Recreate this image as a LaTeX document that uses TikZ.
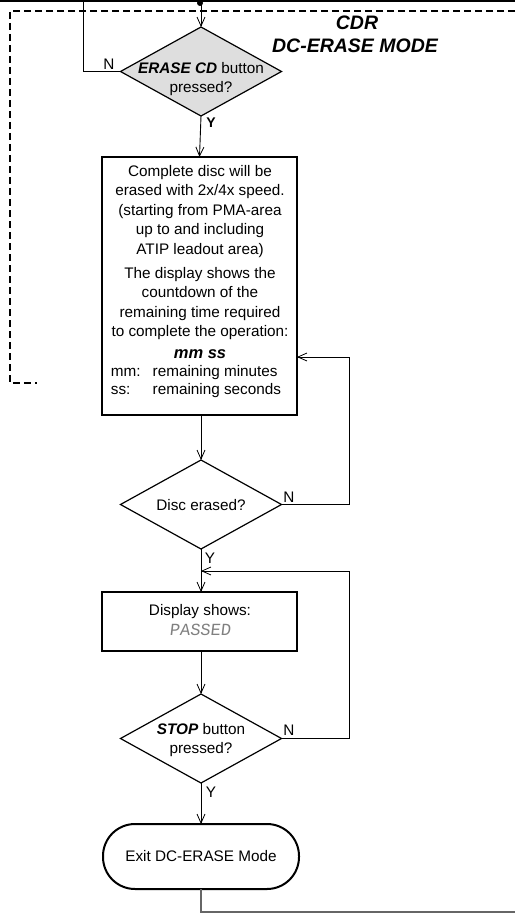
\documentclass[tikz,border=0pt]{standalone}
\usepackage{fontspec}
\setmainfont{Liberation Sans}
\newfontfamily\segfont[FakeSlant=0.12]{Liberation Mono}
\usetikzlibrary{shapes.geometric,arrows.meta}
\begin{document}
\begin{tikzpicture}[x=1pt,y=-1pt,
  every node/.style={inner sep=0pt,outer sep=0pt},
  body/.style={font=\fontsize{15.3}{19.5}\selectfont},
  dec/.style={draw,shape=diamond,line width=1.2pt,minimum width=161pt,minimum height=89pt},
  procbox/.style={draw,line width=2.2pt,rectangle,minimum width=195pt},
  conn/.style={line width=0.9pt},
  arr/.style={conn,-{Straight Barb[length=9pt,width=8pt,line width=0.8pt]}},
  yn/.style={font=\fontsize{14}{16}\selectfont},
  frame/.style={line width=1.5pt,dash pattern=on 7pt off 4pt}
]
\useasboundingbox (0,0) rectangle (515,920);
% top border line and dashed frame
\draw[line width=2.5pt] (0,1) -- (515,1);
\draw[frame] (515,11) -- (10,11) -- (10,383) -- (37,383);
% title
\node[font=\fontsize{19.5}{22}\selectfont\bfseries\itshape] (title1) at (357,23) {CDR};
\node[font=\fontsize{19.5}{22}\selectfont\bfseries\itshape] (title2) at (355,46) {DC-ERASE MODE};
% nodes
\node[dec,fill=black!13] (d1) at (201,71.5) {};
\node[body,align=center] (d1t) at (201,79) {\textbf{\textit{ERASE CD}} button\\pressed?};
\node[procbox,minimum height=258pt] (b1) at (199.5,286) {};
\node[body,align=center,anchor=north] (b1t) at (200,165) {Complete disc will be\\erased with 2x/4x speed.\\(starting from PMA-area\\up to and including\\ATIP leadout area)\\[4.5pt]The display shows the\\countdown of the\\remaining time required\\to complete the operation:\\[2.5pt]{\fontsize{16.5}{19.5}\selectfont\bfseries\itshape mm ss}\\[3.5pt]\hspace*{-8pt}\begin{tabular}{@{}l@{\hspace{12pt}}l@{}}mm: & remaining minutes\\[-1.5pt] ss: & remaining seconds\end{tabular}};
\node[dec] (d2) at (201,504.5) {};
\node[body] (d2t) at (201,505) {Disc erased?};
\node[procbox,minimum height=59pt] (b2) at (199.5,621.5) {};
\node[body,align=center] (b2t) at (200,620) {Display shows:\\{\fontsize{17}{19.5}\segfont\color{black!50}PASSED}};
\node[dec] (d3) at (201,738.5) {};
\node[body,align=center] (d3t) at (201,740) {\textbf{\textit{STOP}} button\\pressed?};
\node[draw,line width=2pt,rectangle,rounded corners=32pt,minimum width=196pt,minimum height=65pt,body] (t) at (201,856.5) {Exit DC-ERASE Mode};
% coordinates
\coordinate (topin) at (201,0);
\coordinate (nl) at (83,0);
\coordinate (r1) at (349,357);
\coordinate (r2) at (349,571);
\coordinate (endr) at (515,912);
% connectors
\fill (200,3) circle (3pt);
\draw[arr] (topin) -- (d1.north);
\draw[conn] (d1.west) -| (nl);
\node[body] at (109,64) {N};
\draw[arr] (d1.south) -- (b1.north);
\node[yn,font=\fontsize{14}{16}\selectfont\bfseries] at (211,123) {Y};
\draw[arr] (b1.south -| d2.north) -- (d2.north);
\draw[arr] (d2.east) -| (r1) -- (r1 -| b1.east);
\node[body] at (289,497) {N};
\draw[arr] (d2.south) -- (d2.south |- b2.north);
\node[body] at (210,558) {Y};
\draw[arr] (d3.east) -| (r2) -- (r2 -| d2.south);
\draw[arr] (b2.south -| d3.north) -- (d3.north);
\node[body] at (289,730) {N};
\draw[arr] (d3.south) -- (t.north);
\node[body] at (211,792) {Y};
\draw[line width=1.3pt,black!60] (t.south) |- (endr);
\end{tikzpicture}
\end{document}
